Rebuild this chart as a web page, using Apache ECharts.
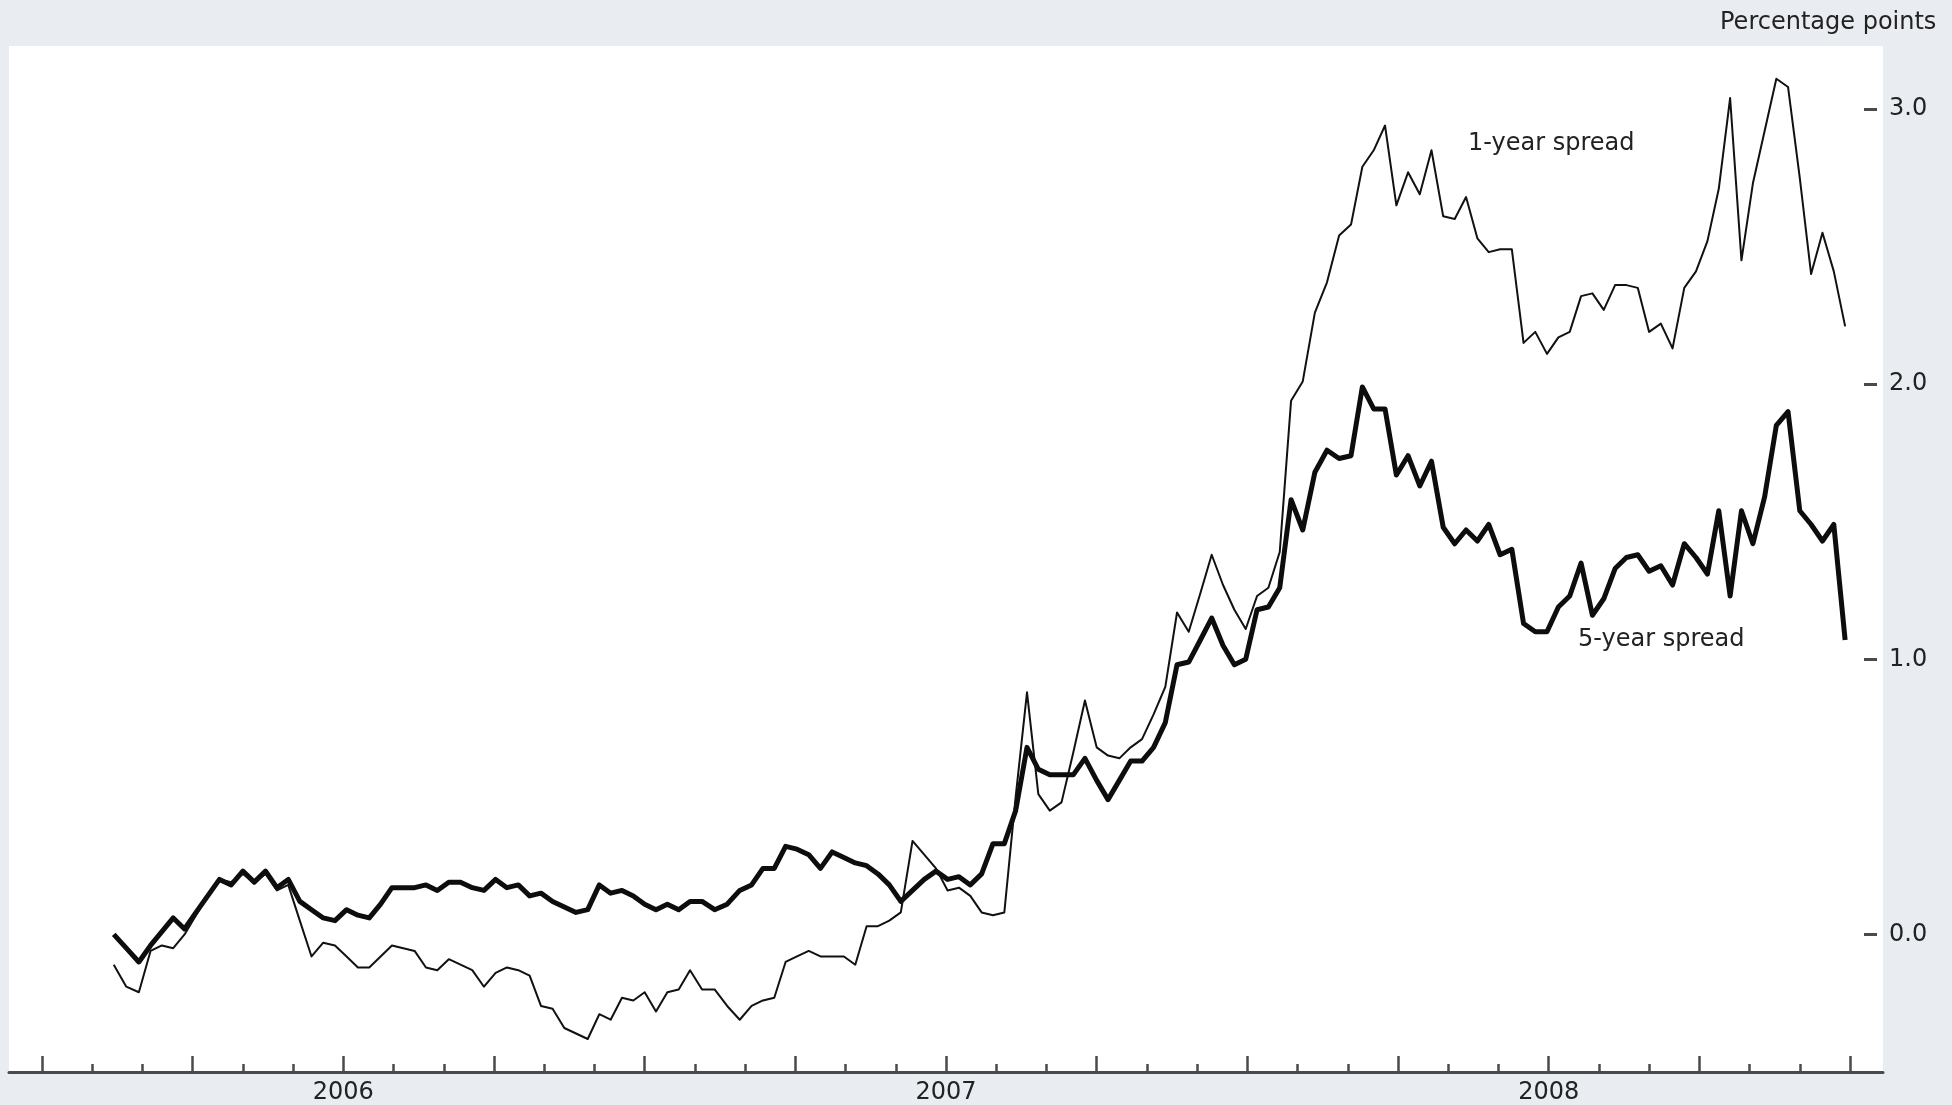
<!DOCTYPE html>
<html>
<head>
<meta charset="utf-8">
<title>1-year and 5-year spreads</title>
<script src="https://cdn.jsdelivr.net/npm/echarts@6/dist/echarts.min.js"></script>
<style>
  html, body { margin: 0; padding: 0; background: #e9edf1; }
  #chart { width: 1952px; height: 1105px; }
</style>
</head>
<body>
<div id="chart"></div>
<script>
// Weekly observations, first week starting 13 Feb 2006
const firstWeek = '2006-02-13';

// 5-year spread, percentage points
const spread5y = [
  0.00,-0.05,-0.10,-0.04,0.01,0.06,0.02,0.08,0.14,0.20,
  0.18,0.23,0.19,0.23,0.17,0.20,0.12,0.09,0.06,0.05,
  0.09,0.07,0.06,0.11,0.17,0.17,0.17,0.18,0.16,0.19,
  0.19,0.17,0.16,0.20,0.17,0.18,0.14,0.15,0.12,0.10,
  0.08,0.09,0.18,0.15,0.16,0.14,0.11,0.09,0.11,0.09,
  0.12,0.12,0.09,0.11,0.16,0.18,0.24,0.24,0.32,0.31,
  0.29,0.24,0.30,0.28,0.26,0.25,0.22,0.18,0.12,0.16,
  0.20,0.23,0.20,0.21,0.18,0.22,0.33,0.33,0.45,0.68,
  0.60,0.58,0.58,0.58,0.64,0.56,0.49,0.56,0.63,0.63,
  0.68,0.77,0.98,0.99,1.07,1.15,1.05,0.98,1.00,1.18,
  1.19,1.26,1.58,1.47,1.68,1.76,1.73,1.74,1.99,1.91,
  1.91,1.67,1.74,1.63,1.72,1.48,1.42,1.47,1.43,1.49,
  1.38,1.40,1.13,1.10,1.10,1.19,1.23,1.35,1.16,1.22,
  1.33,1.37,1.38,1.32,1.34,1.27,1.42,1.37,1.31,1.54,
  1.23,1.54,1.42,1.59,1.85,1.90,1.54,1.49,1.43,1.49,
  1.07
];

// 1-year spread, percentage points
const spread1y = [
  -0.11,-0.19,-0.21,-0.06,-0.04,-0.05,0.00,0.07,0.14,0.20,
  0.19,0.22,0.19,0.22,0.16,0.18,0.05,-0.08,-0.03,-0.04,
  -0.08,-0.12,-0.12,-0.08,-0.04,-0.05,-0.06,-0.12,-0.13,-0.09,
  -0.11,-0.13,-0.19,-0.14,-0.12,-0.13,-0.15,-0.26,-0.27,-0.34,
  -0.36,-0.38,-0.29,-0.31,-0.23,-0.24,-0.21,-0.28,-0.21,-0.20,
  -0.13,-0.20,-0.20,-0.26,-0.31,-0.26,-0.24,-0.23,-0.10,-0.08,
  -0.06,-0.08,-0.08,-0.08,-0.11,0.03,0.03,0.05,0.08,0.34,
  0.29,0.24,0.16,0.17,0.14,0.08,0.07,0.08,0.50,0.88,
  0.51,0.45,0.48,0.66,0.85,0.68,0.65,0.64,0.68,0.71,
  0.80,0.90,1.17,1.10,1.24,1.38,1.27,1.18,1.11,1.23,
  1.26,1.39,1.94,2.01,2.26,2.37,2.54,2.58,2.79,2.85,
  2.94,2.65,2.77,2.69,2.85,2.61,2.60,2.68,2.53,2.48,
  2.49,2.49,2.15,2.19,2.11,2.17,2.19,2.32,2.33,2.27,
  2.36,2.36,2.35,2.19,2.22,2.13,2.35,2.41,2.52,2.71,
  3.04,2.45,2.73,2.92,3.11,3.08,2.75,2.40,2.55,2.41,
  2.21
];

// Axis labels
const yearLabels = ['2006', '2007', '2008'];
const yTickValues = [0, 1, 2, 3];
const unitLabel = 'Percentage points';
const label1y = '1-year spread';
const label5y = '5-year spread';

// Build the weekly dates and turn them into months elapsed since Jan 2006
const weekDates = [];
{
  const d0 = new Date(firstWeek + 'T00:00:00Z');
  for (let i = 0; i < spread5y.length; i++) {
    weekDates.push(new Date(d0.getTime() + i * 7 * 86400000));
  }
}
function monthsSince2006(d) {
  const y = d.getUTCFullYear(), m = d.getUTCMonth(), day = d.getUTCDate();
  const dim = new Date(Date.UTC(y, m + 1, 0)).getUTCDate();
  return (y - 2006) * 12 + m + (day - 1) / dim;
}
const xPos = weekDates.map(monthsSince2006);
const pairs = vals => vals.map((v, i) => [xPos[i], v]);

const FONT = 'DejaVu Sans';
const AXIS = '#4a4a4a';
const TEXT_FONT = '24px "DejaVu Sans"';

const chart = echarts.init(document.getElementById('chart'), null, { renderer: 'canvas' });

chart.setOption({
  backgroundColor: '#e9edf1',
  animation: false,
  textStyle: { fontFamily: FONT },
  grid: [
    // white panel carrying the full-width baseline
    { left: 9, top: 46, width: 1874, bottom: 33, show: true, backgroundColor: '#ffffff', borderWidth: 0 },
    // plotting area: Jan 2006 .. Jan 2009, -0.5 .. 3.2
    { left: 42, right: 102, top: 54, bottom: 33 }
  ],
  xAxis: [
    {
      gridIndex: 0, type: 'value', min: 0, max: 1, position: 'bottom',
      axisLine: { show: true, onZero: false, lineStyle: { color: AXIS, width: 3 } },
      axisTick: { show: false }, axisLabel: { show: false }, splitLine: { show: false }
    },
    {
      gridIndex: 1, type: 'value', min: 0, max: 36, interval: 3, position: 'bottom',
      axisLine: { show: false, onZero: false },
      axisTick: { show: true, inside: true, length: 16, lineStyle: { color: AXIS, width: 2.5 } },
      minorTick: { show: true, splitNumber: 3, length: 8, lineStyle: { color: AXIS, width: 2.5 } },
      axisLabel: {
        show: true,
        customValues: [6, 18, 30],
        formatter: v => yearLabels[Math.round((v - 6) / 12)],
        color: '#222', fontSize: 24, fontFamily: FONT, margin: 9
      },
      splitLine: { show: false }, minorSplitLine: { show: false }
    }
  ],
  yAxis: [
    {
      gridIndex: 0, type: 'value', min: 0, max: 1, show: false,
      axisLine: { onZero: false }
    },
    {
      gridIndex: 1, type: 'value', position: 'right', offset: 14,
      min: -0.5, max: 3.2,
      axisLine: { show: false, onZero: false },
      axisTick: { show: true, customValues: yTickValues, length: 13, lineStyle: { color: AXIS, width: 3 } },
      axisLabel: {
        show: true, customValues: yTickValues,
        formatter: v => v.toFixed(1),
        color: '#222', fontSize: 24, fontFamily: FONT, margin: 25
      },
      splitLine: { show: false }
    }
  ],
  series: [
    {
      name: label5y, type: 'line', xAxisIndex: 1, yAxisIndex: 1,
      data: pairs(spread5y), showSymbol: false, z: 2,
      lineStyle: { color: '#0d0d0d', width: 5, join: 'round' }
    },
    {
      name: label1y, type: 'line', xAxisIndex: 1, yAxisIndex: 1,
      data: pairs(spread1y), showSymbol: false, z: 3,
      lineStyle: { color: '#111111', width: 2, join: 'round' }
    }
  ],
  graphic: [
    { type: 'text', left: 1720, top: 11, style: { text: unitLabel, fill: '#222', font: TEXT_FONT } },
    { type: 'text', left: 1468, top: 132, style: { text: label1y, fill: '#222', font: TEXT_FONT } },
    { type: 'text', left: 1578, top: 628, style: { text: label5y, fill: '#222', font: TEXT_FONT } }
  ]
});
</script>
</body>
</html>
